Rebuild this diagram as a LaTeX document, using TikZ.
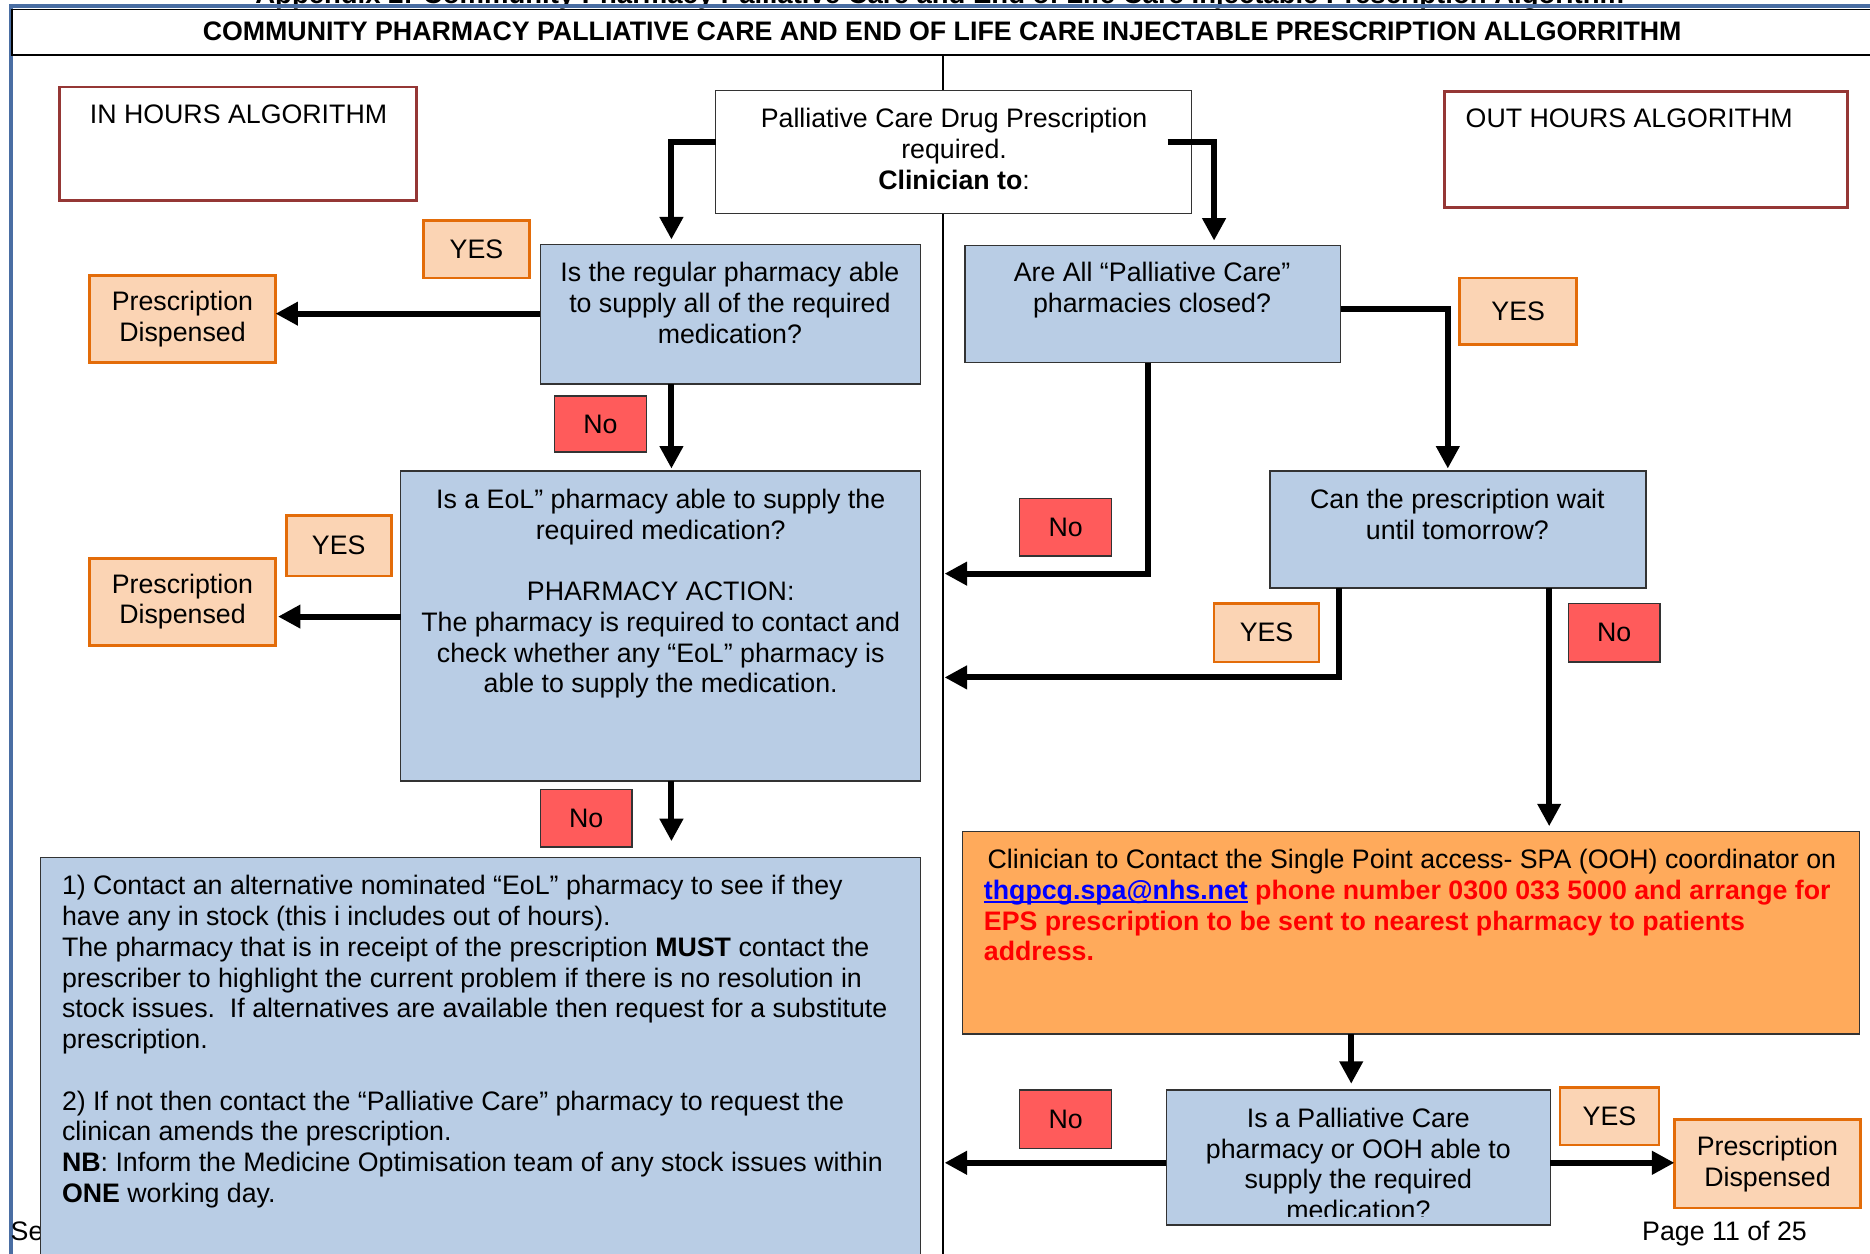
\documentclass[tikz,border=0pt]{standalone}
\usepackage{fontspec}
\setmainfont{Liberation Sans}
\usetikzlibrary{arrows.meta,fit,calc}
\definecolor{qblue}{HTML}{B9CDE5}
\definecolor{peach}{HTML}{FBD4B4}
\definecolor{peachline}{HTML}{E36C09}
\definecolor{nored}{HTML}{FF5B5B}
\definecolor{ooh}{HTML}{FFAA5B}
\definecolor{algred}{HTML}{953735}
\definecolor{frameblue}{HTML}{4A6EA3}
\newcommand\fs{\fontsize{10.7pt}{12.3pt}\selectfont}
\newcommand\myul[1]{\setbox0\hbox{#1}\rlap{\rule[-1.4pt]{\wd0}{0.55pt}}\box0}
\begin{document}
\begin{tikzpicture}[x=0.477pt,y=-0.477pt,
  every node/.style={inner sep=0pt, outer sep=0pt, font=\fs},
  qbox/.style={draw=black!80, line width=0.6pt, fill=qblue},
  yesbox/.style={draw=peachline, line width=1.1pt, fill=peach},
  nobox/.style={draw=black!80, line width=0.6pt, fill=nored},
  algbox/.style={draw=algred, line width=1.1pt, fill=white},
  arr/.style={line width=2.4pt, -{Triangle[length=9pt,width=9pt]}},
  txt/.style={align=center, anchor=north},
  ctr/.style={align=center, anchor=center},
]
\useasboundingbox (0,0) rectangle (1568,1051);

% page furniture
\node[anchor=base, font=\bfseries\fontsize{11pt}{13pt}\selectfont] (hdr) at (788,3) {Appendix 2: Community Pharmacy Palliative Care and End of Life Care Injectable Prescription Algorithm};
\draw[frameblue, line width=1.5pt] (9,1060) -- (9,5) -- (1580,5);
\node[draw=black, line width=0.6pt, fill=white, fit={(10,8)(1580,46)}] (title) {};
\node[font=\bfseries\fs] (titlet) at (790,26) {COMMUNITY PHARMACY PALLIATIVE CARE AND END OF LIFE CARE INJECTABLE PRESCRIPTION ALLGORRITHM};
\draw[black, line width=0.7pt] (791,46) -- (791,1060);
\node[anchor=base west] (se) at (9,1040) {Se};
\node[anchor=base west] (page) at (1377,1040) {Page 11 of 25};

% headers
\node[algbox, fit={(50,73)(349,168)}] (inh) {};
\node[anchor=north] (inht) at (200,88) {IN HOURS ALGORITHM};
\node[algbox, fit={(1211,77)(1549,174)}] (outh) {};
\node[anchor=north west] (outht) at (1229,91) {OUT HOURS ALGORITHM};

% start
\node[draw=black!80, line width=0.6pt, fill=white, fit={(600,76)(999,179)}] (start) {};
\node[txt] (startt) at (800,91) {Palliative Care Drug Prescription\\required.\\\textbf{Clinician to}:};

% in hours column
\node[qbox, fit={(453,205)(772,322)}] (q1) {};
\node[txt] (q1t) at (612,220) {Is the regular pharmacy able\\to supply all of the required\\medication?};
\node[yesbox, fit={(355,185)(444,233)}] (yes1) {};
\node[ctr] (yes1t) at (yes1.center) {YES};
\node[yesbox, fit={(75,231)(231,304)}] (pd1) {};
\node[ctr] (pd1t) at (pd1.center) {Prescription\\Dispensed};
\node[nobox, fit={(465,332)(542,379)}] (no1) {};
\node[ctr] (no1t) at (no1.center) {No};

\node[qbox, fit={(336,395)(772,655)}] (q3) {};
\node[txt] (q3t) at (554,410) {Is a EoL” pharmacy able to supply the\\required medication?\\[12.3pt]PHARMACY ACTION:\\The pharmacy is required to contact and\\check whether any “EoL” pharmacy is\\able to supply the medication.};
\node[yesbox, fit={(240,432)(328,483)}] (yes2) {};
\node[ctr] (yes2t) at (yes2.center) {YES};
\node[yesbox, fit={(75,468)(231,541)}] (pd2) {};
\node[ctr] (pd2t) at (pd2.center) {Prescription\\Dispensed};
\node[nobox, fit={(453,662)(530,710)}] (no2) {};
\node[ctr] (no2t) at (no2.center) {No};

\node[qbox, fit={(34,719)(772,1070)}] (bl) {};
\node[anchor=north west, align=left] (blt) at (52,734) {1) Contact an alternative nominated “EoL" pharmacy to see if they\\have any in stock (this i includes out of hours).\\The pharmacy that is in receipt of the prescription \textbf{MUST} contact the\\prescriber to highlight the current problem if there is no resolution in\\stock issues.\ \ If alternatives are available then request for a substitute\\prescription.\\[12.3pt]2) If not then contact the “Palliative Care” pharmacy to request the\\clinican amends the prescription.\\\textbf{NB}: Inform the Medicine Optimisation team of any stock issues within\\\textbf{ONE} working day.};

% out of hours column
\node[qbox, fit={(809,206)(1124,304)}] (q2) {};
\node[txt] (q2t) at (966,220) {Are All “Palliative Care”\\pharmacies closed?};
\node[yesbox, fit={(1224,233)(1322,289)}] (yes3) {};
\node[ctr] (yes3t) at (yes3.center) {YES};
\node[nobox, fit={(855,418)(932,466)}] (no3) {};
\node[ctr] (no3t) at (no3.center) {No};

\node[qbox, fit={(1065,395)(1380,493)}] (q4) {};
\node[txt] (q4t) at (1222,410) {Can the prescription wait\\until tomorrow?};
\node[yesbox, fit={(1018,506)(1106,555)}] (yes4) {};
\node[ctr] (yes4t) at (yes4.center) {YES};
\node[nobox, fit={(1315,506)(1392,555)}] (no4) {};
\node[ctr] (no4t) at (no4.center) {No};

\node[draw=black!80, line width=0.6pt, fill=ooh, fit={(807,697)(1559,867)}] (oo) {};
\node[anchor=north west, align=left] (oot) at (825,712) {\hspace{1.5pt}Clinician to Contact the Single Point access- SPA (OOH) coordinator on\\{\color{blue}\myul{\textbf{thgpcg.spa@nhs.net}}} {\color{red}\textbf{phone number 0300 033 5000 and arrange for}}\\{\color{red}\textbf{EPS prescription to be sent to nearest pharmacy to patients}}\\{\color{red}\textbf{address.}}};

\node[qbox, fit={(978,914)(1300,1027)}] (q5) {};
\begin{scope}
\clip (978,914) rectangle (1300,1020);
\node[txt] (q5t) at (1139,929) {Is a Palliative Care\\pharmacy or OOH able to\\supply the required\\medication?};
\end{scope}
\node[nobox, fit={(855,914)(932,963)}] (no5) {};
\node[ctr] (no5t) at (no5.center) {No};
\node[yesbox, fit={(1308,912)(1391,960)}] (yes5) {};
\node[ctr] (yes5t) at (yes5.center) {YES};
\node[yesbox, fit={(1404,939)(1560,1013)}] (pd3) {};
\node[ctr] (pd3t) at (pd3.center) {Prescription\\Dispensed};

% connectors
\coordinate (m1) at (792,481);
\coordinate (m2) at (792,568);
\coordinate (m3) at (792,975);
\draw[arr, shorten >=2pt] (start.west |- 0,119) -| (q1.north -| 563,0);
\draw[arr, shorten >=2pt] ($(start.east |- 0,119)+(-20,0)$) -| (q2.north -| 1018,0);
\draw[arr] (q1.west |- 0,263) -- (pd1.east |- 0,263);
\draw[arr, shorten >=1pt] (q1.south -| 563,0) -- (q3.north -| 563,0);
\draw[arr, shorten >=1pt] (q3.west |- 0,517) -- (pd2.east |- 0,517);
\draw[arr, shorten >=6.5pt] (q3.south -| 563,0) -- (bl.north -| 563,0);
\draw[arr] (q2.south -| 963,0) |- (m1);
\draw[arr, shorten >=1pt] (q2.east |- 0,259) -| (q4.north -| 1214,0);
\draw[arr] (q4.south -| 1123,0) |- (m2);
\draw[arr, shorten >=2pt] (q4.south -| 1299,0) -- (oo.north -| 1299,0);
\draw[arr, shorten >=2.5pt] (oo.south -| 1133,0) -- (q5.north -| 1133,0);
\draw[arr] (q5.west |- 0,975) -- (m3);
\draw[arr] (q5.east |- 0,975) -- (pd3.west |- 0,975);
\end{tikzpicture}
\end{document}
